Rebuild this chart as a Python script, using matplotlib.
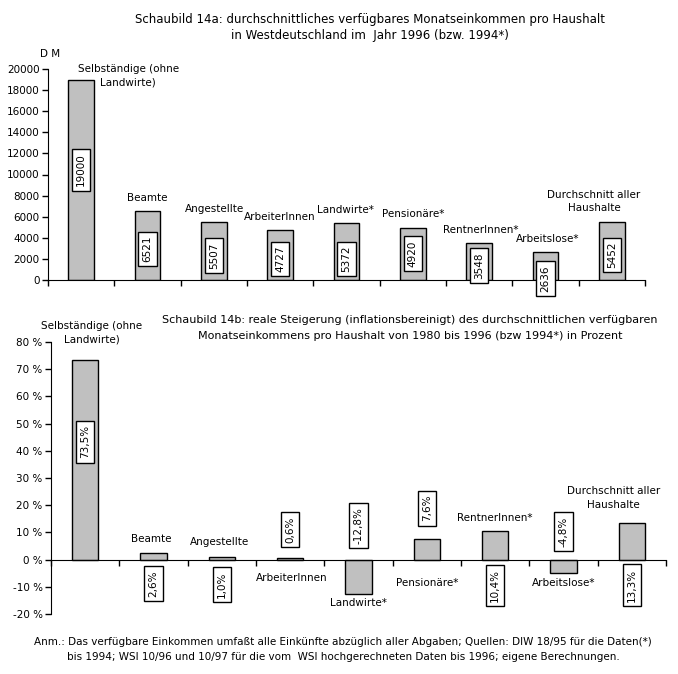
import matplotlib.pyplot as plt

plt.rcParams["font.family"] = "DejaVu Sans"
plt.rcParams["font.size"] = 7.5

# data
categories_top = ["Selbständige (ohne\nLandwirte)", "Beamte", "Angestellte", "ArbeiterInnen",
                  "Landwirte*", "Pensionäre*", "RentnerInnen*", "Arbeitslose*",
                  "Durchschnitt aller\nHaushalte"]
income_dm = [19000, 6521, 5507, 4727, 5372, 4920, 3548, 2636, 5452]

categories_bottom = categories_top
growth_pct = [73.5, 2.6, 1.0, 0.6, -12.8, 7.6, 10.4, -4.8, 13.3]

# label placement (data coordinates)
top_box_y = [10430, 2940, 2320, 1990, 1990, 2490, 1370, 140, 2370]
top_cat_xy = [(0.71, 19380), (0.99, 7740), (2.01, 6700), (2.99, 5940), (3.99, 6630),
              (5.0, 6250), (6.02, 4740), (7.03, 3890), (7.73, 7440)]
bottom_box_y = [43.3, -8.8, -9.2, 11.0, 12.5, 18.9, -9.5, 10.3, -9.4]
bottom_cat_xy = [(0.1, 83.3), (0.97, 7.7), (1.96, 6.3), (3.02, -6.9), (4.0, -16.1),
                 (5.01, -8.7), (5.99, 15.3), (7.0, -8.7), (7.73, 22.6)]

BAR_COLOR = "#c0c0c0"
W, H = 678, 674


def fig_y(py):
    return 1 - py / H


def style_axes(ax, ymin, ymax, n):
    ax.set_xlim(-0.5, n - 0.5)
    ax.set_ylim(ymin, ymax)
    for s in ["top", "right"]:
        ax.spines[s].set_visible(False)
    ax.spines["bottom"].set_position(("data", 0))
    ax.spines["left"].set_bounds(ymin, ymax)
    ax.set_xticks([i - 0.5 for i in range(n + 1)])
    ax.set_xticklabels([])
    ax.tick_params(axis="x", direction="out", length=4, width=1)
    ax.tick_params(axis="y", direction="out", length=4, width=1, pad=2)
    ax.patch.set_alpha(0)


def draw_bars(ax, values, box_y, labels, cat_xy, cats):
    x = range(len(values))
    ax.bar(x, values, width=0.39, color=BAR_COLOR, edgecolor="black", linewidth=1, zorder=2)
    for i, (yb, lab) in enumerate(zip(box_y, labels)):
        ax.text(i, yb, lab, rotation=90, ha="center", va="center", clip_on=False, zorder=3,
                bbox=dict(boxstyle="square,pad=0.4", fc="white", ec="black", lw=1))
    for (cx, cy), c in zip(cat_xy, cats):
        ax.text(cx, cy, c, ha="center", va="center", multialignment="center",
                linespacing=1.45, clip_on=False)


def main():
    fig = plt.figure(figsize=(W / 100, H / 100), dpi=100)

    # top chart
    ax1 = fig.add_axes([48 / W, fig_y(280), 597 / W, 211 / H])
    style_axes(ax1, 0, 20000, len(income_dm))
    ax1.set_yticks(range(0, 20001, 2000))
    ax1.set_yticklabels([str(v) for v in range(0, 20001, 2000)])
    draw_bars(ax1, income_dm, top_box_y, [str(v) for v in income_dm], top_cat_xy, categories_top)

    fig.text(370 / W, fig_y(19), "Schaubild 14a: durchschnittliches verfügbares Monatseinkommen pro Haushalt",
             ha="center", va="center", fontsize=8.5)
    fig.text(370 / W, fig_y(36), "in Westdeutschland im  Jahr 1996 (bzw. 1994*)",
             ha="center", va="center", fontsize=8.5)
    fig.text(50 / W, fig_y(54), "D M", ha="center", va="center")

    # bottom chart
    ax2 = fig.add_axes([51 / W, fig_y(614), 615 / W, 272 / H])
    style_axes(ax2, -20, 80, len(growth_pct))
    ax2.set_yticks(range(-20, 81, 10))
    ax2.set_yticklabels([f"{v} %" for v in range(-20, 81, 10)])
    pct_labels = [f"{v:.1f}".replace(".", ",") + "%" for v in growth_pct]
    draw_bars(ax2, growth_pct, bottom_box_y, pct_labels, bottom_cat_xy, categories_bottom)

    fig.text(410 / W, fig_y(320),
             "Schaubild 14b: reale Steigerung (inflationsbereinigt) des durchschnittlichen verfügbaren",
             ha="center", va="center", fontsize=8)
    fig.text(410 / W, fig_y(336),
             "Monatseinkommens pro Haushalt von 1980 bis 1996 (bzw 1994*) in Prozent",
             ha="center", va="center", fontsize=8)

    fig.text(343 / W, fig_y(642),
             "Anm.: Das verfügbare Einkommen umfaßt alle Einkünfte abzüglich aller Abgaben; Quellen: DIW 18/95 für die Daten(*)",
             ha="center", va="center")
    fig.text(343 / W, fig_y(657),
             "bis 1994; WSI 10/96 und 10/97 für die vom  WSI hochgerechneten Daten bis 1996; eigene Berechnungen.",
             ha="center", va="center")

    fig.savefig("out.png", dpi=100, facecolor="white")


if __name__ == "__main__":
    main()
